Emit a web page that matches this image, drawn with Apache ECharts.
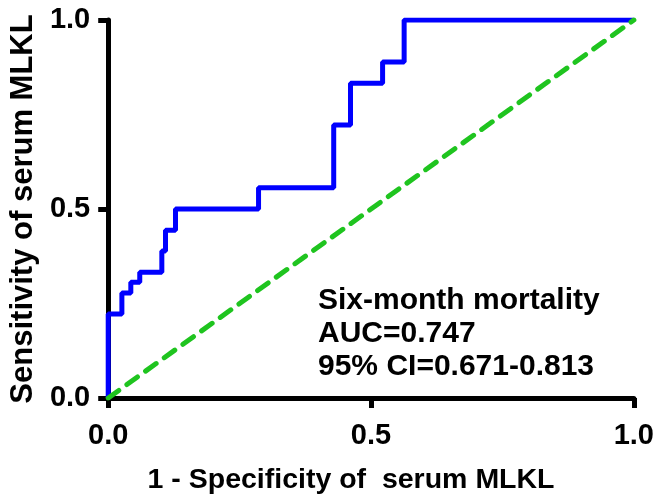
<!DOCTYPE html>
<html>
<head>
<meta charset="utf-8">
<script src="https://cdn.jsdelivr.net/npm/echarts@6/dist/echarts.min.js"></script>
<style>
  html, body { margin: 0; padding: 0; background: #fff; }
  #chart { width: 657px; height: 500px; }
</style>
</head>
<body>
<div id="chart"></div>
<script>
// ROC operating points for serum MLKL (1 - specificity, sensitivity)
const rocFpr = [0, 0, 0.026, 0.043, 0.060, 0.102, 0.109, 0.128, 0.286, 0.429, 0.461, 0.522, 0.563, 1.0];
const rocTpr = [0, 0.222, 0.278, 0.306, 0.333, 0.389, 0.444, 0.500, 0.556, 0.722, 0.833, 0.889, 1.0, 1.0];

// Chance (reference) line
const refX = [0, 1];
const refY = [0, 1];

const annotationLines = ['Six-month mortality', 'AUC=0.747', '95% CI=0.671-0.813'];

const FONT = 'Liberation Sans, Arial, Helvetica, sans-serif';

const chart = echarts.init(document.getElementById('chart'), null, { renderer: 'canvas' });

const axisCommon = {
  type: 'value',
  min: 0,
  max: 1,
  interval: 0.5,
  axisLine: { show: true, lineStyle: { color: '#000', width: 5 } },
  axisTick: { show: true, length: 10, lineStyle: { color: '#000', width: 5 } },
  splitLine: { show: false },
  axisLabel: {
    color: '#000',
    fontFamily: FONT,
    fontWeight: 'bold',
    fontSize: 29,
    formatter: v => v.toFixed(1)
  },
  nameLocation: 'middle',
  nameTextStyle: { color: '#000', fontFamily: FONT, fontWeight: 'bold', fontSize: 28.5 }
};

chart.setOption({
  animation: false,
  backgroundColor: '#fff',
  grid: { left: 106, right: 21, top: 20, bottom: 95, containLabel: false },
  xAxis: Object.assign({}, axisCommon, {
    name: '1 - Specificity of  serum MLKL',
    nameGap: 68,
    nameTextStyle: Object.assign({}, axisCommon.nameTextStyle, { padding: [0, 40, 0, 0] }),
    axisLabel: Object.assign({}, axisCommon.axisLabel, { margin: 23 })
  }),
  yAxis: Object.assign({}, axisCommon, {
    name: 'Sensitivity of serum MLKL',
    nameGap: 65,
    nameTextStyle: Object.assign({}, axisCommon.nameTextStyle, { fontSize: 31 }),
    axisLabel: Object.assign({}, axisCommon.axisLabel, { margin: 18 })
  }),
  series: [
    {
      type: 'line',
      step: 'end',
      data: rocFpr.map((x, i) => [x, rocTpr[i]]),
      showSymbol: false,
      lineStyle: { color: '#0000ff', width: 5 },
      z: 2
    },
    {
      type: 'line',
      data: refX.map((x, i) => [x, refY[i]]),
      showSymbol: false,
      lineStyle: { color: '#1fc41f', width: 5, type: [13, 10], cap: 'round' },
      z: 3
    }
  ],
  graphic: [
    {
      type: 'text',
      left: 318,
      top: 284,
      style: {
        text: annotationLines.join('\n'),
        fill: '#000',
        font: 'bold 30px ' + FONT,
        lineHeight: 33
      }
    }
  ]
});
</script>
</body>
</html>
